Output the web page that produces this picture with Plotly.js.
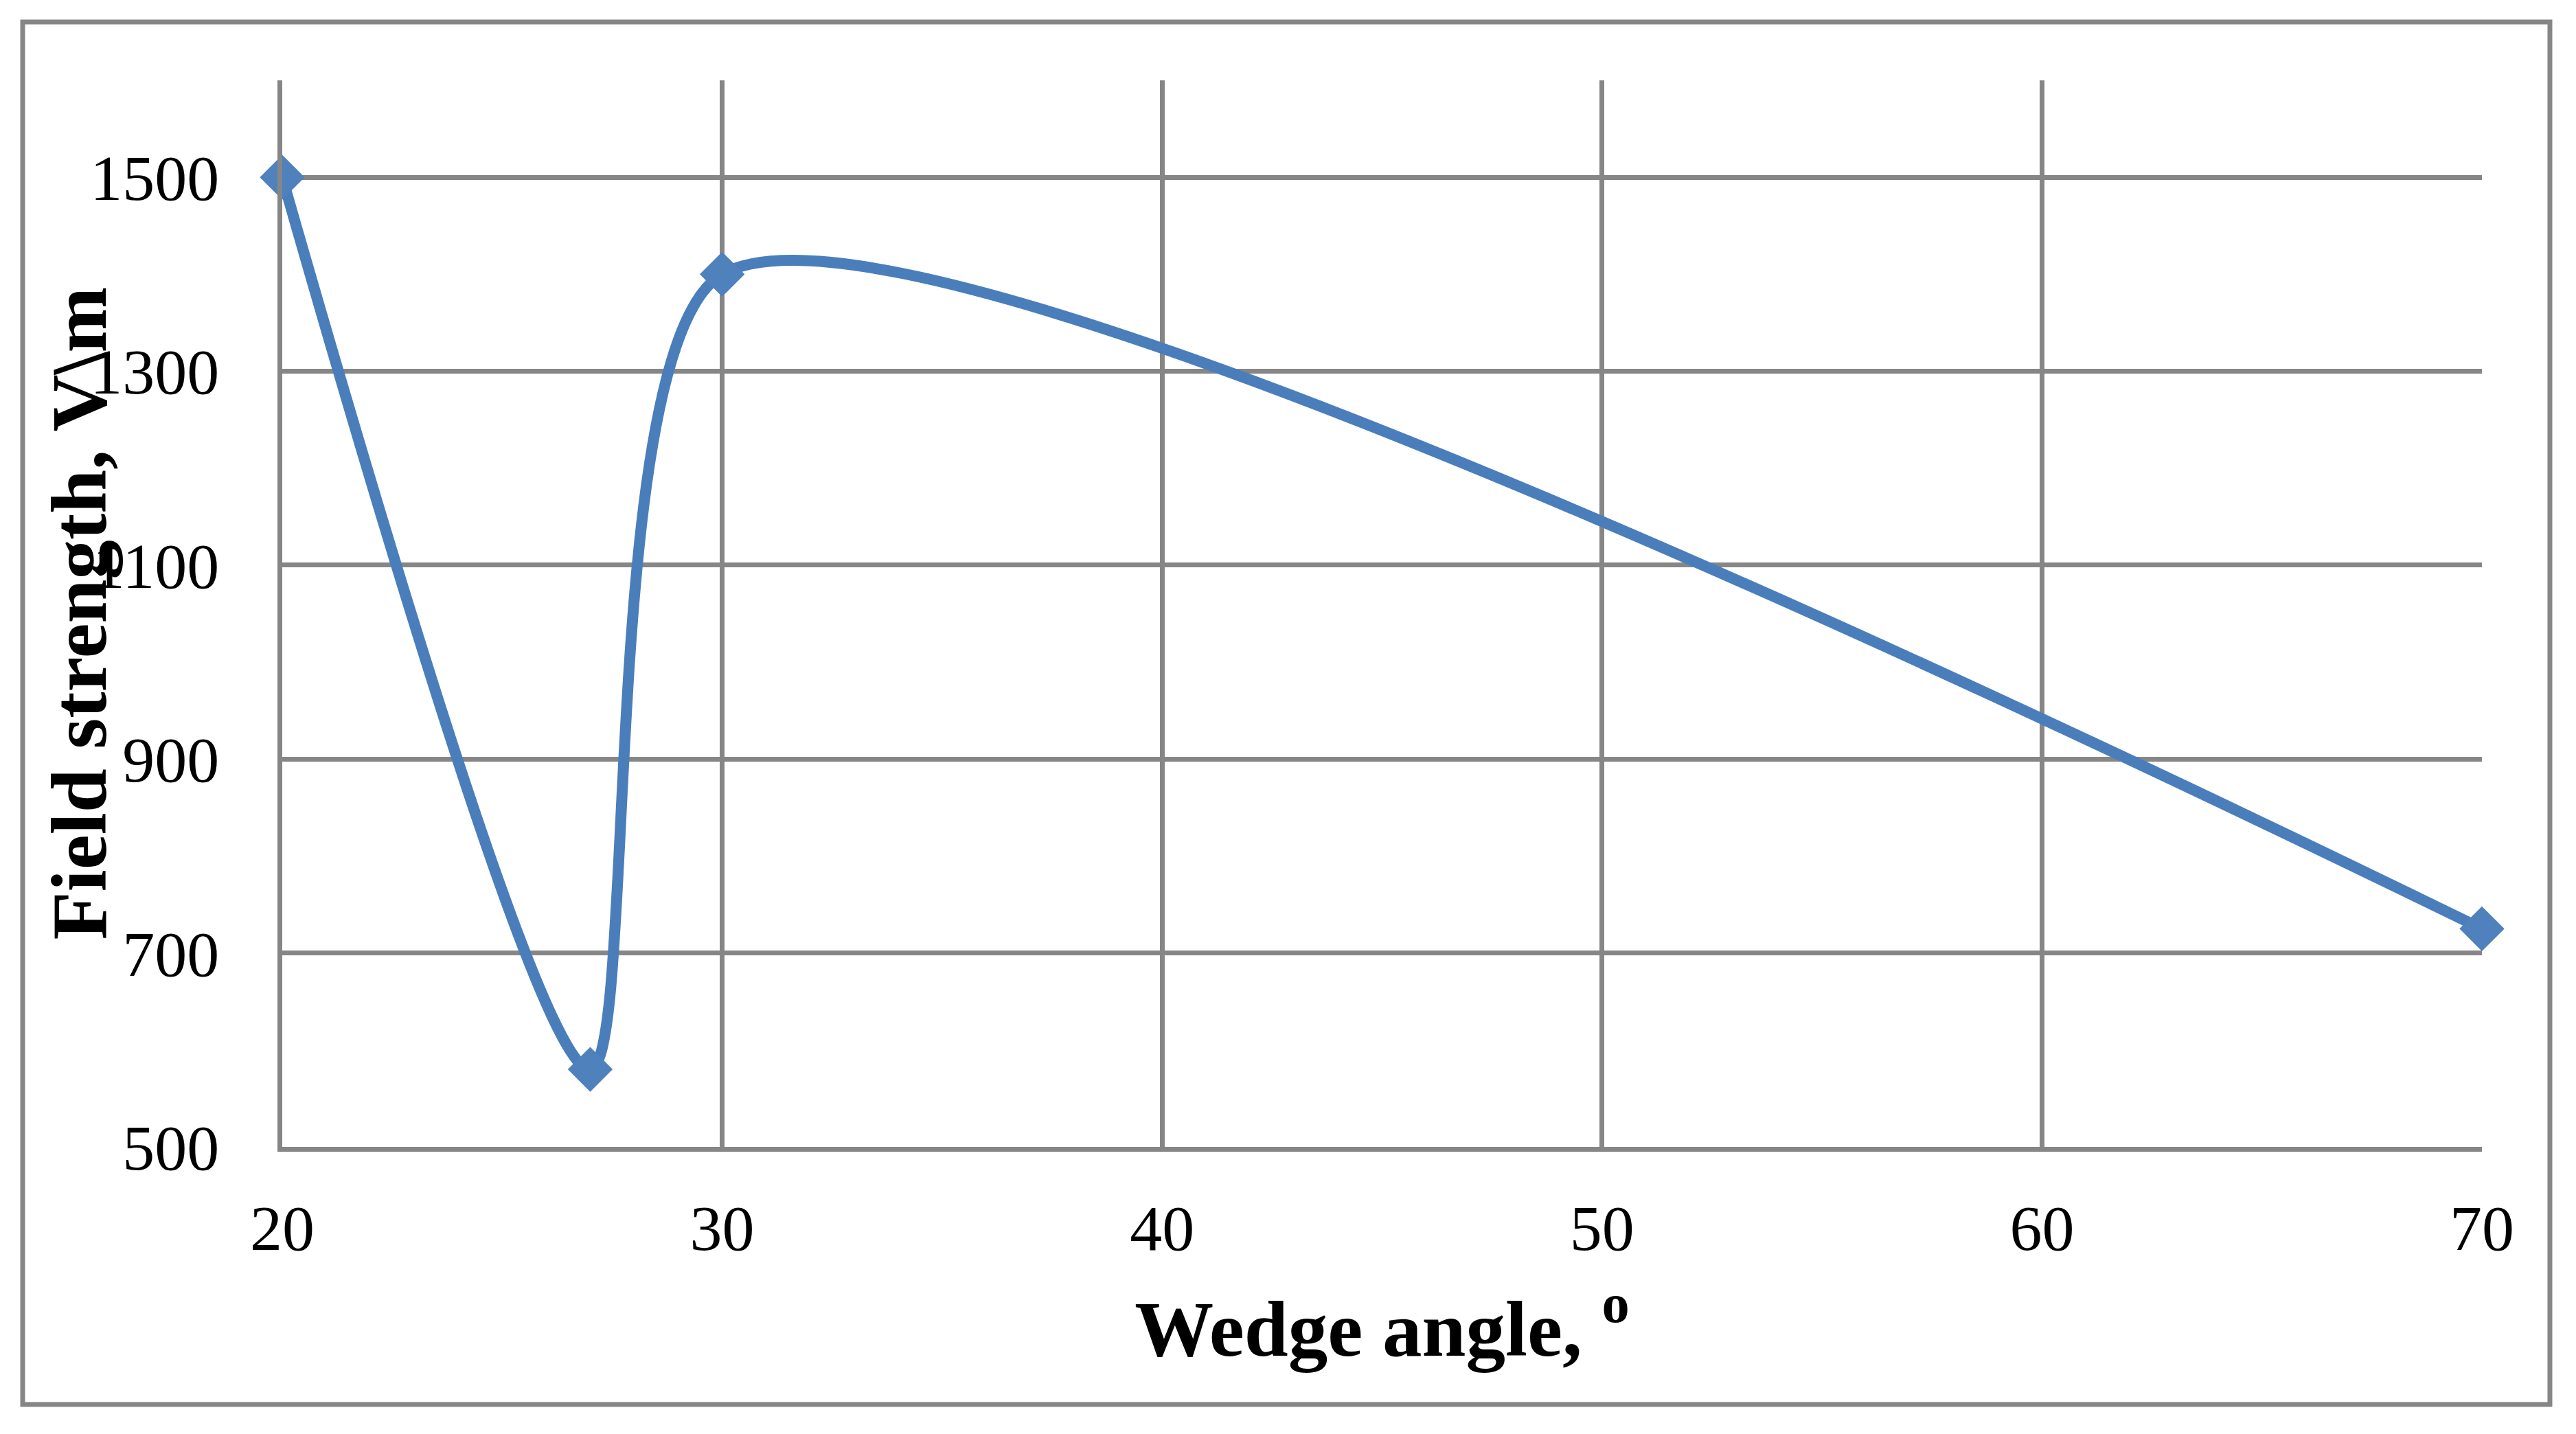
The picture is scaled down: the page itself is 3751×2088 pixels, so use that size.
<!DOCTYPE html>
<html>
<head>
<meta charset="utf-8">
<script src="https://cdn.plot.ly/plotly-3.0.1.min.js"></script>
<style>
  html, body { margin: 0; padding: 0; background: #ffffff; }
  #chart { width: 3751px; height: 2088px; }
</style>
</head>
<body>
<div id="chart"></div>
<script>
// Data
const wedgeAngle = [20, 27, 30, 70];
const fieldStrength = [1500, 580, 1400, 725];

const xTickVals = [20, 30, 40, 50, 60, 70];
const yTickVals = [500, 700, 900, 1100, 1300, 1500];

const xTitle = 'Wedge angle, <sup>o</sup>';
const yTitle = 'Field strength, V\\m';

const gridColor = '#868686';
const lineColor = '#4a7ebb';
const markerColor = '#4f81bd';
const fontFamily = '"Liberation Serif", "Times New Roman", serif';

const W = 3751, H = 2088;
const M = { l: 411, r: 137, t: 117, b: 418 };
const plotW = W - M.l - M.r, plotH = H - M.t - M.b;
function px2paperX(px) { return (px - M.l) / plotW; }
function px2paperY(py) { return (H - M.b - py) / plotH; }

const trace = {
  x: wedgeAngle,
  y: fieldStrength,
  type: 'scatter',
  mode: 'lines+markers',
  line: { color: lineColor, width: 16, shape: 'spline', smoothing: 0.7 },
  marker: { symbol: 'diamond', size: 47, color: markerColor, line: { color: markerColor, width: 3 } },
  cliponaxis: false,
  showlegend: false,
  hoverinfo: 'x+y'
};

const layout = {
  width: W,
  height: H,
  margin: M,
  paper_bgcolor: '#ffffff',
  plot_bgcolor: '#ffffff',
  font: { family: fontFamily, color: '#000000', size: 94 },
  xaxis: {
    range: [20, 70],
    tickmode: 'array',
    tickvals: xTickVals,
    ticktext: xTickVals.map(String),
    showgrid: true,
    gridcolor: gridColor,
    gridwidth: 7,
    showline: true,
    linecolor: gridColor,
    linewidth: 7,
    zeroline: false,
    ticks: '',
    ticklabelstandoff: 30,
    tickfont: { family: fontFamily, size: 94, color: '#000000' },
    title: { text: xTitle, font: { family: fontFamily, size: 115, color: '#000000', weight: 'bold' }, standoff: 57 },
    fixedrange: true
  },
  yaxis: {
    range: [500, 1600],
    tickmode: 'array',
    tickvals: yTickVals,
    ticktext: yTickVals.map(String),
    showgrid: true,
    gridcolor: gridColor,
    gridwidth: 7,
    showline: true,
    linecolor: gridColor,
    linewidth: 7,
    zeroline: false,
    ticks: '',
    ticklabelstandoff: 66,
    tickfont: { family: fontFamily, size: 94, color: '#000000' },
    fixedrange: true
  },
  annotations: [{
    text: '<b>' + yTitle + '</b>',
    xref: 'paper', yref: 'paper',
    x: px2paperX(115), y: 0.5,
    xanchor: 'center', yanchor: 'middle',
    textangle: -90,
    showarrow: false,
    font: { family: fontFamily, size: 115, color: '#000000' }
  }],
  shapes: [{
    type: 'rect', xref: 'paper', yref: 'paper', layer: 'below',
    x0: px2paperX(33), x1: px2paperX(3713),
    y0: px2paperY(2045), y1: px2paperY(32),
    line: { color: gridColor, width: 7 },
    fillcolor: 'rgba(0,0,0,0)'
  }]
};

Plotly.newPlot('chart', [trace], layout, { displayModeBar: false, staticPlot: true });
</script>
</body>
</html>
